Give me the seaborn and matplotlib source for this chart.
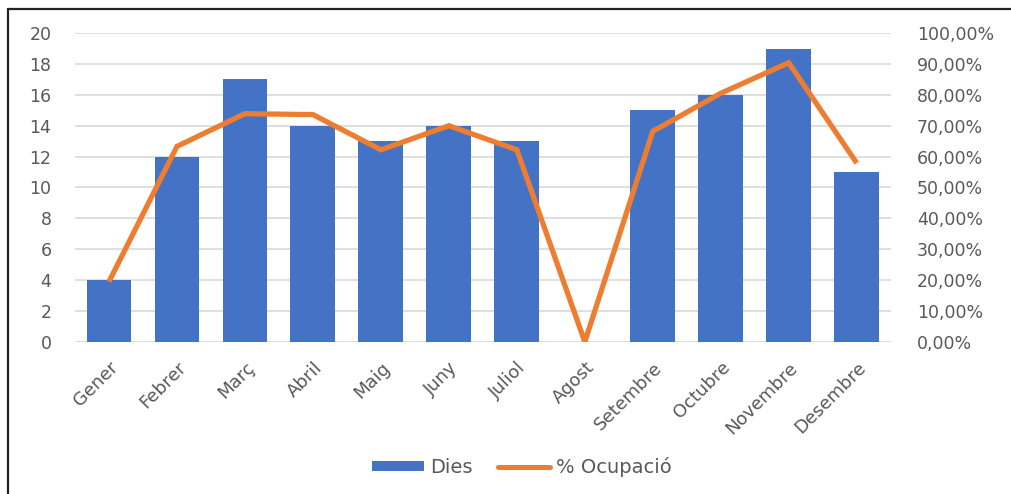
import numpy as np
import pandas as pd
import matplotlib
matplotlib.use("Agg")
import matplotlib.pyplot as plt
from matplotlib.lines import Line2D
from matplotlib.patches import Patch
import seaborn as sns

## Dies i ocupació per mes
mesos = ['Gener', 'Febrer', 'Març', 'Abril', 'Maig', 'Juny', 'Juliol', 'Agost',
         'Setembre', 'Octubre', 'Novembre', 'Desembre']
dies = [4, 12, 17, 14, 13, 14, 13, 0, 15, 16, 19, 11]
ocupacio = [19.5, 63.3, 73.9, 73.6, 62.2, 70.0, 62.2, 0.0, 68.2, 80.5, 90.4, 57.9]

df = pd.DataFrame({'mes': mesos, 'dies': dies, 'ocupacio': ocupacio, 'pos': np.arange(len(mesos))})

blau = '#4472C4'
taronja = '#ED7D31'
gris = '#595959'

sns.set_style('white')
plt.rcParams['font.family'] = ['DejaVu Sans']

fig = plt.figure(figsize=(10.11, 4.94), dpi=100)
ax = fig.add_axes([0.0742, 0.308, 0.8068, 0.625])

sns.barplot(x='mes', y='dies', data=df, color=blau, width=0.66, saturation=1,
            linewidth=0, edgecolor='none', ax=ax, zorder=2)
ax.set_ylim(0, 20)
ax.set_xlim(-0.5, 11.5)
ax.set_yticks(range(0, 21, 2))
ax.yaxis.grid(True, color='#D9D9D9', linewidth=1.2, zorder=0)
ax.set_axisbelow(True)
ax.set_xlabel('')
ax.set_ylabel('')
ax.tick_params(axis='y', length=0, pad=17, labelsize=12.5, labelcolor=gris)
ax.tick_params(axis='x', length=0, pad=12, labelsize=13, labelcolor=gris)
for lbl in ax.get_xticklabels():
    lbl.set_rotation(45)
    lbl.set_ha('right')
    lbl.set_va('top')
    lbl.set_rotation_mode('anchor')
for s in ax.spines.values():
    s.set_visible(False)

ax2 = ax.twinx()
sns.lineplot(x='pos', y='ocupacio', data=df, color=taronja, linewidth=3.8, ax=ax2,
             solid_capstyle='butt', solid_joinstyle='miter')
ax2.set_ylim(0, 100)
ax2.set_xlim(-0.5, 11.5)
ax2.set_yticks(range(0, 101, 10))
ax2.set_yticklabels([f'{v:.2f}%'.replace('.', ',') for v in range(0, 101, 10)])
ax2.set_ylabel('')
ax2.tick_params(axis='y', length=0, pad=19, labelsize=12.5, labelcolor=gris)
for s in ax2.spines.values():
    s.set_visible(False)

handles = [Patch(facecolor=blau, edgecolor='none'),
           Line2D([0], [0], color=taronja, linewidth=3.6)]
fig.legend(handles, ['Dies', '% Ocupació'], loc='center', bbox_to_anchor=(0.516, 0.055),
           ncol=2, frameon=False, fontsize=14, handlelength=2.7, handleheight=0.42,
           handletextpad=0.3, columnspacing=1.3, labelcolor=gris)

# vora del gràfic
fig.add_artist(Line2D([0.008, 0.008], [0, 0.982], color='#222222', linewidth=1.6, transform=fig.transFigure))
fig.add_artist(Line2D([0.008, 1], [0.982, 0.982], color='#222222', linewidth=1.6, transform=fig.transFigure))

fig.savefig('out.png', dpi=100)
